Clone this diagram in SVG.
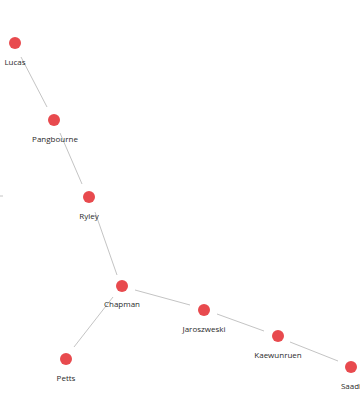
<svg xmlns="http://www.w3.org/2000/svg" width="360" height="410" viewBox="0 0 360 410">
<style>
.e{stroke:#c4c4c4;stroke-width:1;fill:none}
.n circle{fill:#e84a4e}
.n text{font-family:"Open Sans","Liberation Sans",sans-serif;font-size:8px;fill:#2a2a2a;text-anchor:middle}
</style>
<rect width="360" height="410" fill="#fff"/>
<g id="edges">
<line class="e" x1="21" y1="57" x2="47" y2="107"/>
<line class="e" x1="60" y1="133" x2="82" y2="184"/>
<line class="e" x1="95" y1="212" x2="117" y2="275"/>
<line class="e" x1="135" y1="290" x2="190" y2="305"/>
<line class="e" x1="217" y1="314" x2="264" y2="331"/>
<line class="e" x1="290" y1="342" x2="338" y2="361"/>
<line class="e" x1="113" y1="297" x2="74" y2="347"/>
<line class="e" x1="0" y1="196" x2="3" y2="196"/>
</g>
<g id="Lucas" class="n"><circle cx="15" cy="43" r="6"/><text x="15" y="65">Lucas</text></g>
<g id="Pangbourne" class="n"><circle cx="54" cy="120" r="6"/><text x="55" y="142">Pangbourne</text></g>
<g id="Ryley" class="n"><circle cx="89" cy="197" r="6"/><text x="89" y="219">Ryley</text></g>
<g id="Chapman" class="n"><circle cx="122" cy="286" r="6"/><text x="122" y="307">Chapman</text></g>
<g id="Jaroszweski" class="n"><circle cx="204" cy="310" r="6"/><text x="204" y="332">Jaroszweski</text></g>
<g id="Kaewunruen" class="n"><circle cx="278" cy="336" r="6"/><text x="278" y="358">Kaewunruen</text></g>
<g id="Saadi" class="n"><circle cx="351" cy="367" r="6"/><text x="351" y="389">Saadi</text></g>
<g id="Petts" class="n"><circle cx="66" cy="359" r="6"/><text x="66" y="381">Petts</text></g>
</svg>
